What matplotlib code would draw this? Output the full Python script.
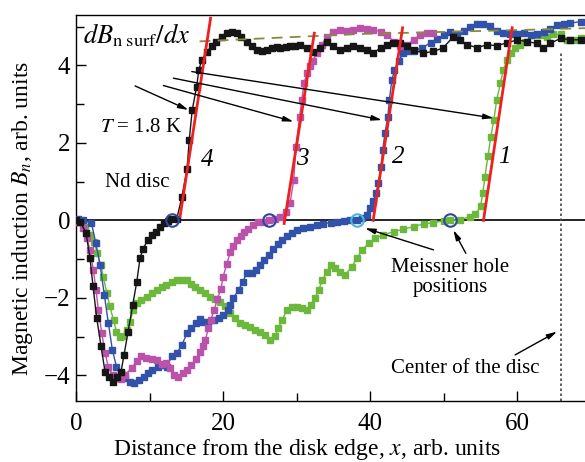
import matplotlib
matplotlib.use('Agg')
import matplotlib.pyplot as plt
from matplotlib.ticker import MultipleLocator

plt.rcParams['font.family'] = ['Liberation Serif', 'DejaVu Serif']
plt.rcParams['mathtext.fontset'] = 'stix'

# ---------------- data ----------------
black_x = [0.0, 0.6, 1.36, 1.9, 2.31, 2.82, 3.4, 3.95, 4.49, 4.99, 5.54, 6.12, 6.53, 7.07, 7.71, 8.26,
           8.71, 9.12, 9.76, 10.3, 10.9, 11.4, 12.0, 12.5, 12.8, 13.7, 14.4, 15.1, 15.4, 15.8, 16.4, 16.7,
           17.1, 17.8, 18.5, 19.1, 19.8, 20.5, 21.2, 21.9, 22.5, 23.2, 23.9, 24.6, 25.3, 25.9, 26.6, 27.3,
           27.8, 28.5, 29.1, 29.8, 30.5, 31.4, 32.2, 33.2, 34.1, 35.0, 35.9, 36.8, 37.7, 38.6, 39.6, 40.4,
           41.4, 42.3, 43.1, 44.1, 45.0, 45.9, 47.2, 48.6, 49.9, 51.3, 52.2, 53.2, 54.5, 55.9, 57.2, 58.6,
           60.0, 61.3, 62.7, 63.5, 64.5, 65.9, 67.2, 68.6]
black_y = [0.0, -0.05, -0.32, -0.97, -1.69, -2.52, -3.24, -3.91, -4.04, -4.17, -4.04, -3.91, -3.47, -2.88, -2.18, -1.59,
           -0.97, -0.74, -0.50, -0.37, -0.30, -0.17, -0.06, -0.01, 0.04, 0.04, 0.61, 1.33, 2.08, 2.85, 3.45, 3.88,
           4.14, 4.35, 4.51, 4.61, 4.73, 4.83, 4.87, 4.83, 4.74, 4.61, 4.49, 4.40, 4.37, 4.40, 4.44, 4.47,
           4.45, 4.47, 4.49, 4.51, 4.53, 4.45, 4.35, 4.45, 4.61, 4.49, 4.40, 4.45, 4.49, 4.45, 4.40, 4.32,
           4.45, 4.53, 4.58, 4.58, 4.49, 4.40, 4.32, 4.36, 4.45, 4.74, 4.66, 4.53, 4.46, 4.53, 4.51, 4.58,
           4.66, 4.61, 4.57, 4.45, 4.57, 4.70, 4.66, 4.66]

magenta_x = [0.0, 0.45, 1.0, 1.45, 1.9, 2.36, 2.72, 3.04, 3.5, 3.95, 4.4, 5.0, 5.54, 6.1, 6.7, 7.6, 8.3,
             8.8, 9.5, 10.3, 11.0, 11.7, 12.3, 12.8, 13.3, 13.8, 14.5, 15.1, 15.7, 16.3, 16.9, 17.3, 17.6,
             18.0, 18.3, 18.8, 19.2, 19.7, 20.0, 20.5, 21.0, 21.4, 21.9, 22.4, 22.9, 23.4, 24.0, 24.8, 25.5,
             26.3, 27.1, 27.8, 28.5, 29.1, 29.6, 29.9, 30.4, 30.7, 31.0, 31.4, 31.8, 32.2, 32.7, 33.4, 34.1,
             35.0, 35.9, 36.8, 37.7, 38.6, 39.5, 40.4, 41.4, 42.3, 43.2, 44.1, 45.0, 45.9, 46.8, 47.7, 48.6]
magenta_y = [0.0, -0.03, -0.2, -0.45, -0.76, -1.28, -1.79, -2.31, -2.9, -3.43, -3.78, -4.0, -4.06, -4.08, -3.98, -3.8, -3.62,
             -3.49, -3.55, -3.58, -3.6, -3.7, -3.69, -3.81, -3.99, -4.03, -3.94, -3.86, -3.74, -3.58, -3.40, -3.25, -3.08,
             -2.78, -2.57, -2.31, -2.03, -1.77, -1.46, -1.12, -0.81, -0.65, -0.50, -0.39, -0.30, -0.22, -0.12, -0.05, -0.03,
             0.0, 0.03, 0.10, 0.22, 0.44, 1.05, 1.9, 2.68, 3.11, 3.54, 3.8, 3.98, 4.12, 4.31, 4.53, 4.74,
             4.87, 4.92, 4.89, 4.92, 4.96, 4.94, 4.92, 4.87, 4.79, 4.61, 4.49, 4.53, 4.66, 4.79, 4.83, 4.83]

blue_x = [0.0, 0.3, 1.0, 2.1, 2.7, 3.27, 3.85, 4.4, 4.94, 5.5, 6.1, 6.7, 7.35, 7.9, 8.6, 9.25, 9.84,
          10.4, 11.1, 11.8, 12.4, 13.0, 13.7, 14.4, 15.1, 15.7, 16.3, 16.9, 17.3, 18.0, 18.7, 19.4, 20.0,
          20.6, 21.0, 21.4, 22.1, 22.7, 23.2, 23.9, 24.5, 25.0, 25.6, 26.2, 26.8, 27.4, 28.0, 28.7, 29.3,
          30.0, 30.9, 31.8, 32.7, 33.6, 34.6, 35.5, 36.4, 37.3, 38.2, 38.9, 39.6, 40.0, 40.4, 40.8, 41.1,
          41.5, 41.7, 42.0, 42.4, 42.6, 42.95, 43.3, 43.9, 44.5, 45.2, 45.9, 47.0, 48.2, 49.1, 50.0, 50.9,
          51.8, 52.7, 53.6, 54.5, 55.4, 56.3, 57.2, 58.1, 59.0, 60.0, 60.9, 61.8, 62.7, 63.6, 64.5, 65.4,
          66.3, 67.2, 68.6]
blue_y = [0.0, 0.04, 0.0, -0.07, -0.59, -1.15, -1.92, -2.65, -3.34, -3.77, -3.94, -4.07, -4.16, -4.2, -4.12, -4.05, -3.94,
          -3.86, -3.77, -3.73, -3.77, -3.5, -3.43, -3.21, -2.91, -2.78, -2.65, -2.55, -2.61, -2.61, -2.57, -2.52, -2.44,
          -2.31, -2.18, -2.01, -1.79, -1.58, -1.36, -1.35, -1.28, -1.15, -1.02, -0.89, -0.74, -0.61, -0.50, -0.39, -0.33,
          -0.26, -0.20, -0.16, -0.12, -0.08, -0.06, -0.03, -0.01, 0.01, 0.02, 0.06, 0.14, 0.33, 0.49, 0.70, 0.96,
          1.39, 1.82, 2.25, 2.68, 3.11, 3.63, 3.88, 4.12, 4.33, 4.36, 4.38, 4.45, 4.58, 4.68, 4.79, 4.85,
          4.82, 4.88, 5.0, 5.07, 5.08, 5.02, 4.9, 4.83, 4.80, 4.82, 4.84, 4.78, 4.81, 4.85, 4.95, 5.04,
          5.08, 5.09, 5.13]

green_x = [0.0, 0.3, 1.2, 1.9, 2.45, 2.9, 3.36, 3.7, 4.2, 4.6, 5.1, 5.5, 6.0, 6.4, 6.9, 7.35, 7.8,
           8.26, 8.9, 9.6, 10.3, 11.0, 11.7, 12.3, 13.0, 13.7, 14.4, 15.1, 15.6, 16.2, 16.9, 17.6, 18.2,
           18.9, 19.6, 20.3, 21.0, 21.6, 22.3, 23.0, 23.7, 24.4, 25.0, 25.7, 26.4, 27.1, 27.5, 28.0, 28.7,
           29.3, 30.0, 30.7, 31.4, 31.9, 32.5, 33.0, 33.5, 34.1, 34.7, 35.2, 35.9, 36.6, 37.5, 38.2, 38.9,
           39.8, 40.7, 41.8, 43.2, 44.5, 45.9, 47.3, 48.6, 50.0, 50.9, 52.2, 53.6, 54.3, 55.0, 55.3, 55.6,
           56.0, 56.4, 56.8, 57.2, 57.7, 58.1, 58.6, 59.1, 59.7, 60.4, 61.1, 62.2, 63.1, 64.0, 64.9, 65.9,
           66.8, 67.7, 68.6]
green_y = [0.0, -0.05, -0.16, -0.37, -0.55, -0.85, -1.15, -1.45, -1.88, -2.22, -2.57, -2.87, -3.02, -2.97, -2.83, -2.61, -2.31,
           -2.14, -2.05, -1.98, -1.88, -1.79, -1.72, -1.66, -1.60, -1.55, -1.54, -1.55, -1.64, -1.71, -1.79, -1.88, -1.97,
           -2.03, -2.10, -2.22, -2.40, -2.52, -2.64, -2.70, -2.76, -2.83, -2.87, -2.95, -3.08, -2.98, -2.78, -2.57, -2.31,
           -2.24, -2.24, -2.27, -2.31, -2.18, -2.01, -1.79, -1.54, -1.32, -1.15, -1.23, -1.32, -1.41, -1.19, -0.98, -0.76,
           -0.59, -0.46, -0.37, -0.29, -0.23, -0.16, -0.09, -0.06, -0.01, 0.0, 0.02, 0.10, 0.16, 0.36, 0.70, 1.13,
           1.65, 2.16, 2.59, 3.11, 3.54, 3.88, 4.14, 4.31, 4.44, 4.53, 4.60, 4.78, 4.79, 4.74, 4.80, 4.80,
           4.66, 4.66, 4.70]

# tangent (red) lines: [x_start, x_end], [y_start, y_end]
tangent_x = [[14.15, 18.3], [28.3, 32.4], [40.4, 44.4], [55.4, 59.3]]
tangent_y = [[0.10, 5.22], [-0.08, 4.83], [0.0, 4.97], [0.0, 4.97]]
curve_labels = ['4', '3', '2', '1']
curve_label_x = [17.8, 30.8, 43.8, 58.2]
curve_label_y = [1.56, 1.59, 1.64, 1.64]

# saturation (dashed) line
sat_x = [16.8, 30.5, 38.6, 61.8, 69.2]
sat_y = [4.62, 4.74, 4.81, 4.92, 4.96]

# Meissner hole positions
hole_x = [13.0, 26.3, 38.2, 50.9]
hole_y = [0.0, 0.0, 0.0, 0.0]
hole_colors = ['#2c47a6', '#2c47a6', '#4bb6d8', '#2c47a6']

center_x = 66.0
center_top = 4.31

# arrows (tail -> head)
slope_tail = [(8.03, 3.47), (11.88, 3.48), (13.24, 3.67), (15.74, 3.84)]
slope_head = [(15.28, 2.85), (29.56, 2.55), (41.59, 2.59), (56.78, 2.64)]
hole_tail = [(48.6, -0.76), (53.0, -0.85)]
hole_head = [(39.3, -0.20), (51.3, -0.25)]
center_tail = (59.7, -3.47)
center_head = (65.4, -2.87)

XMIN, XMAX = 0.0, 69.2
YMIN, YMAX = -4.66, 5.30

# ---------------- figure ----------------
fig = plt.figure(figsize=(5.85, 4.62), dpi=100)
ax = fig.add_axes([76 / 585, 61 / 462, 1 - 76 / 585, (401 - 15) / 462])
ax.set_xlim(XMIN, XMAX)
ax.set_ylim(YMIN, YMAX)

ax.axhline(0, color='k', lw=1.2, zorder=1)
ax.vlines(center_x, YMIN, center_top, colors='#444444', linestyles=(0, (1.5, 1.5)), lw=1.2, zorder=1)

curves = [(green_x, green_y, '#6cb83c', 4.4), (blue_x, blue_y, '#3152a8', 4.2),
          (magenta_x, magenta_y, '#bb52a9', 4.0), (black_x, black_y, '#161616', 3.8)]
for xs, ys, c, m in curves:
    ax.plot(xs, ys, '-s', color=c, mec=c, mfc=c, ms=m, lw=1.0, zorder=3)

ax.plot(sat_x, sat_y, color='#8a8a3c', lw=1.3, dashes=(6, 4), zorder=4)

for tx, ty in zip(tangent_x, tangent_y):
    ax.plot(tx, ty, color='#ee2020', lw=2.0, zorder=5)

for hx, hy, hc in zip(hole_x, hole_y, hole_colors):
    ax.plot(hx, hy, 'o', mfc='none', mec=hc, ms=9, mew=1.5, zorder=6)

for lab, lx, ly in zip(curve_labels, curve_label_x, curve_label_y):
    ax.text(lx, ly, lab, fontsize=18, fontstyle='italic', ha='center', va='center', zorder=7)

aprops = dict(arrowstyle='-|>,head_length=0.6,head_width=0.16', color='k', lw=1.0,
              shrinkA=0, shrinkB=0)
for t, h in zip(slope_tail, slope_head):
    ax.annotate('', xy=h, xytext=t, arrowprops=aprops, zorder=6)
for t, h in zip(hole_tail, hole_head):
    ax.annotate('', xy=h, xytext=t, arrowprops=aprops, zorder=6)
ax.annotate('', xy=center_head, xytext=center_tail, arrowprops=aprops, zorder=6)

ax.text(0.95, 4.79, r'$dB_{\rm n\ surf}/dx$', fontsize=19, ha='left', va='center')
ax.text(3.27, 2.39, r'$T$ = 1.8 K', fontsize=15, ha='left', va='center')
ax.text(3.9, 0.97, 'Nd disc', fontsize=15, ha='left', va='center')
ax.text(50.9, -1.48, 'Meissner hole\npositions', fontsize=15, ha='center', va='center', linespacing=1.1)
ax.text(52.9, -3.81, 'Center of the disc', fontsize=15, ha='center', va='center')

# axes styling
ax.spines['right'].set_visible(False)
for s in ['left', 'bottom', 'top']:
    ax.spines[s].set_linewidth(1.0)
ax.xaxis.set_major_locator(MultipleLocator(20))
ax.xaxis.set_minor_locator(MultipleLocator(10))
ax.yaxis.set_major_locator(MultipleLocator(2))
ax.yaxis.set_minor_locator(MultipleLocator(1))
ax.tick_params(which='both', direction='in', top=False, right=False, width=1.0)
ax.tick_params(which='major', length=7, labelsize=18)
ax.tick_params(axis='x', which='major', pad=9)
ax.tick_params(axis='y', which='major', pad=4)
ax.tick_params(which='minor', length=6)

ax.set_xlabel(r'Distance from the disk edge, $x$, arb. units', fontsize=17)
ax.xaxis.label.set_va('baseline')
ax.xaxis.set_label_coords(0.4534, -0.140)
ax.set_ylabel(r'Magnetic induction $B_n$, arb. units', fontsize=17)
ax.yaxis.label.set_va('center')
ax.yaxis.set_label_coords(-0.106, 0.474)

fig.savefig('out.png', dpi=100)
